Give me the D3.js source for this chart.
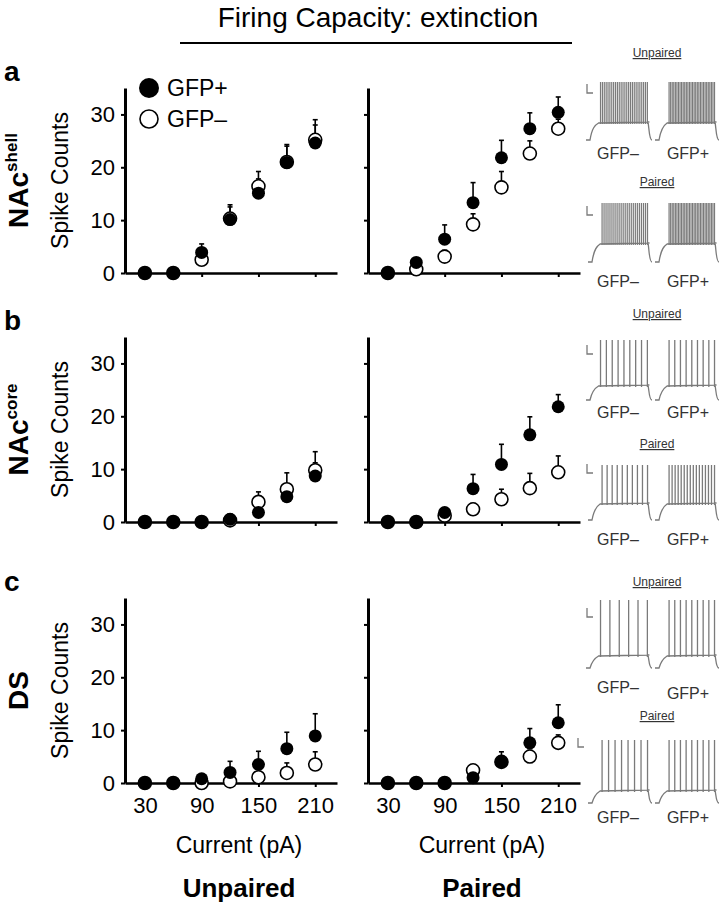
<!DOCTYPE html>
<html><head><meta charset="utf-8">
<script src="https://cdn.jsdelivr.net/npm/d3@7"></script>
<style>
html,body{margin:0;padding:0;background:#fff;}
svg{display:block;font-family:"Liberation Sans",Arial,sans-serif;}
</style></head>
<body><svg id="chart" width="724" height="904"></svg>
<script>
// ---------- data ----------
const currents = [30, 60, 90, 120, 150, 180, 210];
const xTickValues = [30, 90, 150, 210];
const yTickValues = [0, 10, 20, 30];

const shellUnpairedPlus     = [0, 0, 3.9, 10.1, 15.1, 20.9, 24.6];
const shellUnpairedPlusErr  = [0, 0, 1.6, 2.8, 2.7, 3.4, 3.4];
const shellUnpairedMinus    = [0, 0, 2.5, 10.3, 16.4, 21.0, 25.2];
const shellUnpairedMinusErr = [0, 0, 1.5, 2.2, 2.8, 3.0, 3.8];

const shellPairedPlus       = [0, 2.0, 6.4, 13.3, 21.8, 27.3, 30.4];
const shellPairedPlusErr    = [0, 0.5, 2.7, 3.8, 3.3, 3.0, 2.9];
const shellPairedMinus      = [0, 0.7, 3.1, 9.2, 16.2, 22.6, 27.3];
const shellPairedMinusErr   = [0, 0.3, 1.2, 2.0, 3.0, 2.4, 1.8];

const coreUnpairedPlus      = [0, 0, 0, 0.5, 1.8, 4.8, 8.7];
const coreUnpairedPlusErr   = [0, 0, 0, 0.3, 1.0, 2.0, 2.5];
const coreUnpairedMinus     = [0, 0, 0, 0.3, 3.8, 6.2, 9.8];
const coreUnpairedMinusErr  = [0, 0, 0, 0.3, 1.9, 3.1, 3.5];

const corePairedPlus        = [0, 0, 1.8, 6.3, 10.9, 16.5, 21.8];
const corePairedPlusErr     = [0, 0, 0.6, 2.7, 3.8, 3.4, 2.3];
const corePairedMinus       = [0, 0, 1.2, 2.4, 4.3, 6.4, 9.4];
const corePairedMinusErr    = [0, 0, 0.5, 1.1, 1.9, 2.8, 3.1];

const dsUnpairedPlus        = [0, 0, 0.8, 2.0, 3.5, 6.5, 8.9];
const dsUnpairedPlusErr     = [0, 0, 0.3, 2.1, 2.5, 3.1, 4.2];
const dsUnpairedMinus       = [0, 0, 0, 0.3, 1.1, 1.9, 3.5];
const dsUnpairedMinusErr    = [0, 0, 0, 0.3, 0.6, 1.9, 2.4];

const dsPairedPlus          = [0, 0, 0, 1.0, 4.0, 7.6, 11.4];
const dsPairedPlusErr       = [0, 0, 0, 0.4, 1.9, 2.7, 3.4];
const dsPairedMinus         = [0, 0, 0, 2.4, 4.0, 5.0, 7.6];
const dsPairedMinusErr      = [0, 0, 0, 0.6, 1.0, 1.2, 1.5];

// spikes per example trace: [GFP-, GFP+]
const traceSpikesShellUnpaired = [26, 30];
const traceSpikesShellPaired   = [24, 30];
const traceSpikesCoreUnpaired  = [9, 9];
const traceSpikesCorePaired    = [10, 16];
const traceSpikesDsUnpaired    = [6, 9];
const traceSpikesDsPaired      = [8, 9];

const panelLetters = ["a", "b", "c"];
const regionNames = ["shell", "core", "DS"];
const groupNames = ["Unpaired", "Paired"];
const seriesNames = ["GFP+", "GFP\u2013"];

// ---------- layout ----------
const svg = d3.select("#chart");
const W = 212, H = 185;
const colX = [125, 368];
const rowBase = [273, 522, 783];

const x = d3.scaleLinear().domain([9, 233]).range([0, W]);
const y = d3.scaleLinear().domain([0, 35]).range([H, 0]);

const panels = [
  [ {p: shellUnpairedPlus, pe: shellUnpairedPlusErr, m: shellUnpairedMinus, me: shellUnpairedMinusErr},
    {p: shellPairedPlus, pe: shellPairedPlusErr, m: shellPairedMinus, me: shellPairedMinusErr} ],
  [ {p: coreUnpairedPlus, pe: coreUnpairedPlusErr, m: coreUnpairedMinus, me: coreUnpairedMinusErr},
    {p: corePairedPlus, pe: corePairedPlusErr, m: corePairedMinus, me: corePairedMinusErr} ],
  [ {p: dsUnpairedPlus, pe: dsUnpairedPlusErr, m: dsUnpairedMinus, me: dsUnpairedMinusErr},
    {p: dsPairedPlus, pe: dsPairedPlusErr, m: dsPairedMinus, me: dsPairedMinusErr} ]
];

// title
svg.append("text").attr("x", 378).attr("y", 27).attr("text-anchor", "middle")
  .attr("font-size", 28).text("Firing Capacity: extinction");
svg.append("line").attr("x1", 180).attr("x2", 572).attr("y1", 43).attr("y2", 43)
  .attr("stroke", "#000").attr("stroke-width", 2);

const R = 6.5;

panels.forEach((row, ri) => {
  const top = rowBase[ri] - H;
  // panel letter
  svg.append("text").attr("x", 4).attr("y", top - 7).attr("font-size", 28)
    .attr("font-weight", "bold").text(panelLetters[ri]);
  // region label (rotated)
  const rl = svg.append("text")
    .attr("transform", `translate(28,${top + H / 2}) rotate(-90)`)
    .attr("text-anchor", "middle").attr("font-weight", "bold").attr("font-size", 28);
  if (ri < 2) {
    rl.append("tspan").text("NAc");
    rl.append("tspan").attr("font-size", 17).attr("dy", -11).text(regionNames[ri]);
  } else {
    rl.text(regionNames[ri]);
  }
  // y title
  svg.append("text")
    .attr("transform", `translate(${68},${top + H / 2}) rotate(-90)`)
    .attr("text-anchor", "middle").attr("font-size", 23).text("Spike Counts");

  row.forEach((d, ci) => {
    const g = svg.append("g").attr("transform", `translate(${colX[ci]},${top})`);
    // axes
    const yAx = d3.axisLeft(y).tickValues(yTickValues).tickSize(4).tickSizeOuter(0)
      .tickFormat(ci === 0 ? d3.format("d") : () => "");
    const ya = g.append("g").call(yAx);
    ya.select(".domain").attr("stroke-width", 3);
    ya.selectAll(".tick line").attr("stroke-width", 2);
    ya.selectAll(".tick text").attr("font-size", 22).attr("font-family", "Liberation Sans, Arial, sans-serif")
      .attr("x", -10).attr("fill", "#000");

    const xAx = d3.axisBottom(x).tickValues(xTickValues).tickSize(4).tickSizeOuter(0)
      .tickFormat(ri === 2 ? d3.format("d") : () => "");
    const xa = g.append("g").attr("transform", `translate(0,${H})`).call(xAx);
    xa.select(".domain").attr("stroke-width", 2.5);
    xa.selectAll(".tick line").attr("stroke-width", 2);
    xa.selectAll(".tick text").attr("font-size", 22).attr("font-family", "Liberation Sans, Arial, sans-serif")
      .attr("y", 14).attr("fill", "#000");

    const pts = (vals, errs) => currents.map((c, i) => ({c, v: vals[i], e: errs[i]}));
    const minus = pts(d.m, d.me), plus = pts(d.p, d.pe);

    // error bars (upper only)
    [minus, plus].forEach(arr => {
      const eb = g.append("g").selectAll("g").data(arr.filter(o => o.e > 0)).join("g");
      eb.append("line").attr("x1", o => x(o.c)).attr("x2", o => x(o.c))
        .attr("y1", o => y(o.v)).attr("y2", o => y(o.v + o.e))
        .attr("stroke", "#000").attr("stroke-width", 1.6);
      eb.append("line").attr("x1", o => x(o.c) - 2.5).attr("x2", o => x(o.c) + 2.5)
        .attr("y1", o => y(o.v + o.e)).attr("y2", o => y(o.v + o.e))
        .attr("stroke", "#000").attr("stroke-width", 1.6);
    });
    g.append("g").selectAll("circle").data(minus).join("circle")
      .attr("cx", o => x(o.c)).attr("cy", o => y(o.v)).attr("r", R)
      .attr("fill", "#fff").attr("stroke", "#000").attr("stroke-width", 1.6);
    g.append("g").selectAll("circle").data(plus).join("circle")
      .attr("cx", o => x(o.c)).attr("cy", o => y(o.v)).attr("r", R)
      .attr("fill", "#000");

    if (ri === 2) {
      g.append("text").attr("x", W / 2 + 8).attr("y", H + 70).attr("text-anchor", "middle")
        .attr("font-size", 23).text("Current (pA)");
      g.append("text").attr("x", W / 2 + 8).attr("y", H + 114).attr("text-anchor", "middle")
        .attr("font-size", 26).attr("font-weight", "bold").text(groupNames[ci]);
    }
  });
});

// legend
const leg = svg.append("g");
leg.append("circle").attr("cx", 149).attr("cy", 88).attr("r", 10).attr("fill", "#000");
leg.append("circle").attr("cx", 149).attr("cy", 119).attr("r", 9).attr("fill", "#fff")
  .attr("stroke", "#000").attr("stroke-width", 1.6);
leg.append("text").attr("x", 167).attr("y", 96).attr("font-size", 23).text(seriesNames[0]);
leg.append("text").attr("x", 167).attr("y", 127).attr("font-size", 23).text(seriesNames[1]);

// ---------- example traces ----------
const traceColor = "#7a7a7a";
function drawTrace(x0, w, yBase, yPlat, yTop, n) {
  const g = svg.append("g");
  const sx0 = x0 + w * 0.22, sx1 = x0 + w * 0.93;
  const p = d3.path();
  p.moveTo(x0, yBase);
  p.lineTo(x0 + 4, yBase);
  p.bezierCurveTo(x0 + 6, yPlat + 6, x0 + 9, yPlat + 3, sx0 - 2, yPlat + 1);
  p.lineTo(sx1 + 2, yPlat);
  p.lineTo(x0 + w - 4, yPlat);
  p.bezierCurveTo(x0 + w - 3, yPlat + 4, x0 + w - 3, yBase, x0 + w, yBase);
  g.append("path").attr("d", p.toString()).attr("fill", "none")
    .attr("stroke", traceColor).attr("stroke-width", 1.3);
  const xs = d3.range(n).map(i => n === 1 ? sx0 : sx0 + (sx1 - sx0) * i / (n - 1));
  g.selectAll("line").data(xs).join("line")
    .attr("x1", d => d).attr("x2", d => d).attr("y1", yPlat + 2).attr("y2", yTop)
    .attr("stroke", traceColor).attr("stroke-width", n > 20 ? 1.2 : 1.3);
}
function scaleBar(x0, y0) {
  svg.append("path").attr("d", `M${x0},${y0}V${y0 + 9}H${x0 + 6}`).attr("fill", "none")
    .attr("stroke", traceColor).attr("stroke-width", 1.3);
}
function traceLabel(xc, yc, txt, underline) {
  const t = svg.append("text").attr("x", xc).attr("y", yc).attr("text-anchor", "middle")
    .attr("font-size", underline ? 12 : 16).attr("fill", "#333").text(txt);
  if (underline) t.attr("text-decoration", "underline");
}
const traceSets = [
  {lbl: 57, un: traceSpikesShellUnpaired, pa: traceSpikesShellPaired,
   r1: [140, 122, 82], r2: [262, 243, 203], gl1: 159, pl: 186, gl2: 287, sb1: 84, sb2: 206},
  {lbl: 318, un: traceSpikesCoreUnpaired, pa: traceSpikesCorePaired,
   r1: [400, 385, 340], r2: [520, 503, 465], gl1: 418, pl: 448, gl2: 545, sb1: 345, sb2: 464},
  {lbl: 586, un: traceSpikesDsUnpaired, pa: traceSpikesDsPaired,
   r1: [668, 655, 600], r2: [803, 790, 740], gl1: 693, pl: 720, gl2: 823, sb1: 608, sb2: 738}
];
traceSets.forEach((s, i) => {
  traceLabel(657, s.lbl, groupNames[0], true);
  traceLabel(657, s.pl, groupNames[1], true);
  scaleBar(587, s.sb1);
  scaleBar(i === 2 ? 578 : 587, s.sb2);
  drawTrace(586, 66, s.r1[0], s.r1[1], s.r1[2], s.un[0]);
  drawTrace(655, 64, s.r1[0], s.r1[1], s.r1[2], s.un[1]);
  drawTrace(588, 64, s.r2[0], s.r2[1], s.r2[2], s.pa[0]);
  drawTrace(655, 64, s.r2[0], s.r2[1], s.r2[2], s.pa[1]);
  traceLabel(618, s.gl1, seriesNames[1], false);
  traceLabel(688, s.gl1 + (i === 2 ? 6 : 0), seriesNames[0], false);
  traceLabel(618, s.gl2, seriesNames[1], false);
  traceLabel(688, s.gl2, seriesNames[0], false);
});
</script></body></html>
